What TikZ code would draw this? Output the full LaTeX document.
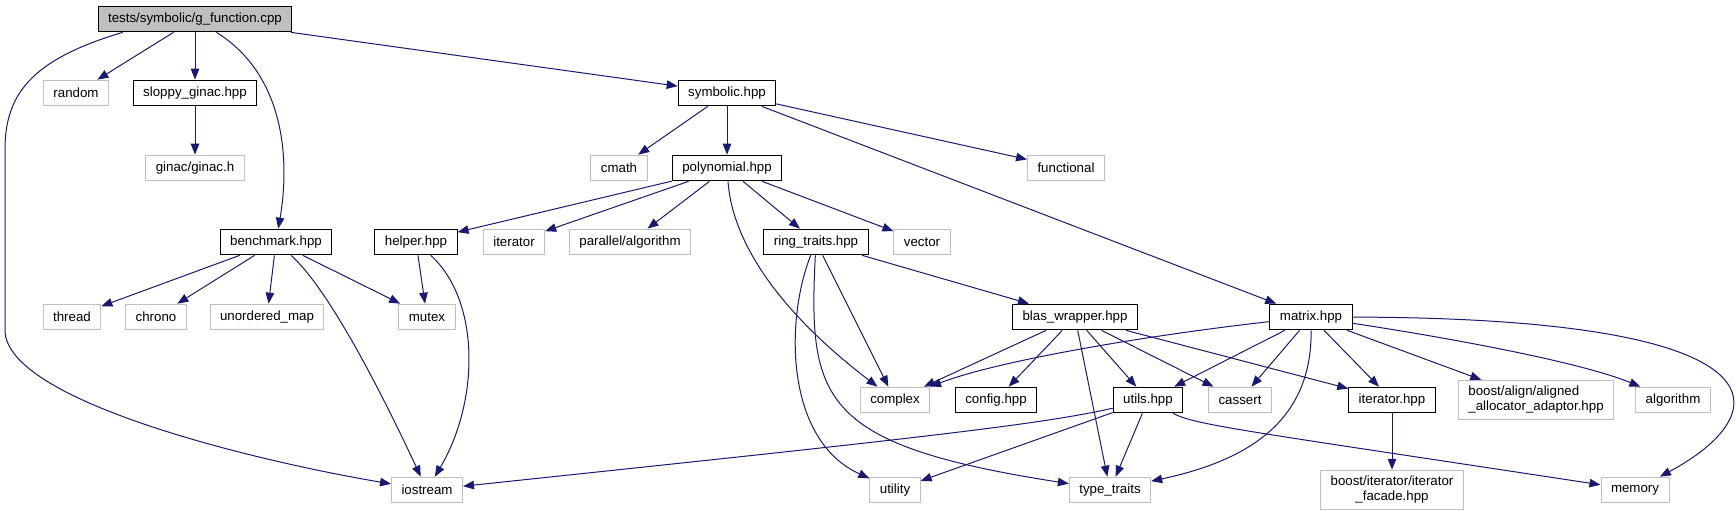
\documentclass[tikz,border=0pt]{standalone}
\usepackage{fontspec}
\setmainfont{Liberation Sans}
\usepackage{tikz}
\usetikzlibrary{arrows.meta}
\definecolor{midblue}{HTML}{191970}
\definecolor{boxgray}{HTML}{BFBFBF}

\begin{document}
\begin{tikzpicture}[x=1pt,y=-1pt,
  font=\fontsize{13.3}{15}\selectfont,
  filebox/.style={draw=black,line width=1pt,fill=white,inner xsep=10pt,inner ysep=6pt,minimum height=25.7pt},
  sysbox/.style={filebox,draw=boxgray},
  rootbox/.style={filebox,fill=boxgray},
  dep/.style={draw=midblue,line width=1pt,-{Triangle[length=11pt,width=8.5pt]}}]
  \useasboundingbox (0,0) rectangle (1736,517);
  \node[rootbox] (gfunc) at (195,19) {tests/symbolic/g\_function.cpp};
  \node[sysbox] (rnd) at (76,93) {random};
  \node[filebox] (sloppy) at (195,93) {sloppy\_ginac.hpp};
  \node[sysbox] (ginac) at (195,168) {ginac/ginac.h};
  \node[filebox] (symb) at (727,93) {symbolic.hpp};
  \node[sysbox] (cmath) at (619,168) {cmath};
  \node[filebox] (poly) at (727,168) {polynomial.hpp};
  \node[sysbox] (func) at (1066,168) {functional};
  \node[filebox] (bench) at (276,242) {benchmark.hpp};
  \node[filebox] (helper) at (416,242) {helper.hpp};
  \node[sysbox] (iter) at (514,242) {iterator};
  \node[sysbox] (palg) at (630,242) {parallel/algorithm};
  \node[filebox] (ring) at (816,242) {ring\_traits.hpp};
  \node[sysbox] (vec) at (922,242) {vector};
  \node[sysbox] (thread) at (72,317) {thread};
  \node[sysbox] (chrono) at (156,317) {chrono};
  \node[sysbox] (umap) at (267,317) {unordered\_map};
  \node[sysbox] (mutex) at (427,317) {mutex};
  \node[filebox] (blas) at (1075,317) {blas\_wrapper.hpp};
  \node[filebox] (matrix) at (1311,317) {matrix.hpp};
  \node[sysbox] (cplx) at (895,400) {complex};
  \node[filebox] (config) at (996,400) {config.hpp};
  \node[filebox] (utils) at (1148,400) {utils.hpp};
  \node[sysbox] (cassert) at (1240,400) {cassert};
  \node[filebox] (iterhpp) at (1392,400) {iterator.hpp};
  \node[sysbox,align=left] (align) at (1536,400) {boost/align/aligned\\\_allocator\_adaptor.hpp};
  \node[sysbox] (algo) at (1673,400) {algorithm};
  \node[sysbox] (iostream) at (427,490) {iostream};
  \node[sysbox] (utility) at (895,490) {utility};
  \node[sysbox] (ttraits) at (1110,490) {type\_traits};
  \node[sysbox,align=center] (boostit) at (1392,490) {boost/iterator/iterator\\\_facade.hpp};
  \node[sysbox] (memory) at (1635,490) {memory};

  \draw[dep] (gfunc) -- (rnd);
  \draw[dep] (gfunc) -- (sloppy);
  \draw[dep] (gfunc) .. controls (285,75) and (290,160) .. (bench);
  \draw[dep] (gfunc) -- (symb);
  \draw[dep] ([xshift=25pt]gfunc.south west) .. controls (30,60) and (5,95) .. (5,150) -- (5,330)
    .. controls (5,400) and (250,460) .. (iostream);
  \draw[dep] (sloppy) -- (ginac);
  \draw[dep] (bench) -- (thread);
  \draw[dep] (bench) -- (chrono);
  \draw[dep] (bench) -- (umap);
  \draw[dep] (bench) -- (mutex);
  \draw[dep] (bench) .. controls (330,290) and (385,400) .. (iostream);
  \draw[dep] (helper) -- (mutex);
  \draw[dep] (helper) .. controls (480,300) and (480,400) .. (iostream);
  \draw[dep] (symb) -- (cmath);
  \draw[dep] (symb) -- (poly);
  \draw[dep] (symb) -- (func);
  \draw[dep] (symb) -- (matrix);
  \draw[dep] (poly) -- (helper);
  \draw[dep] (poly) -- (iter);
  \draw[dep] (poly) -- (palg);
  \draw[dep] (poly) -- (ring);
  \draw[dep] (poly) -- (vec);
  \draw[dep] (poly) .. controls (733,250) and (790,320) .. (cplx);
  \draw[dep] (ring) .. controls (785,320) and (785,440) .. (utility);
  \draw[dep] (ring) .. controls (808,400) and (820,445) .. (ttraits);
  \draw[dep] (ring) -- (cplx);
  \draw[dep] (ring) -- (blas);
  \draw[dep] (blas) -- (cplx);
  \draw[dep] (blas) -- (config);
  \draw[dep] (blas) -- (ttraits);
  \draw[dep] (blas) -- (utils);
  \draw[dep] (blas) -- (cassert);
  \draw[dep] (blas) -- (iterhpp);
  \draw[dep] (matrix) .. controls (1150,335) and (1000,360) .. (cplx);
  \draw[dep] (matrix) -- (utils);
  \draw[dep] (matrix) -- (cassert);
  \draw[dep] (matrix) .. controls (1312,420) and (1250,460) .. (ttraits);
  \draw[dep] (matrix) -- (iterhpp);
  \draw[dep] (matrix) -- (align);
  \draw[dep] (matrix) .. controls (1450,338) and (1580,362) .. (algo);
  \draw[dep] (matrix) .. controls (1800,318) and (1775,415) .. (memory);
  \draw[dep] (utils) .. controls (1040,425) and (900,440) .. (iostream);
  \draw[dep] (utils) -- (utility);
  \draw[dep] (utils) -- (ttraits);
  \draw[dep] (utils) .. controls (1195,425) and (1240,430) .. (memory);
  \draw[dep] (iterhpp) -- (boostit);
\end{tikzpicture}
\end{document}
